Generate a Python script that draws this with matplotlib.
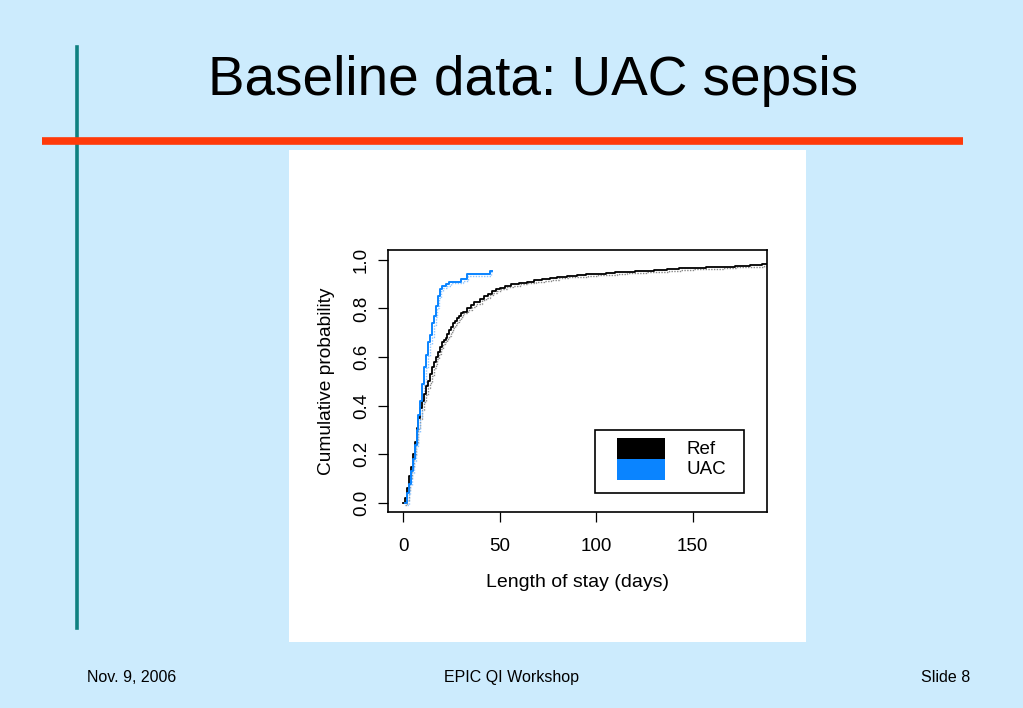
import matplotlib
matplotlib.use("Agg")
import matplotlib.pyplot as plt
from matplotlib.patches import Rectangle
from matplotlib.lines import Line2D
import matplotlib.transforms as mtransforms

# ---- data ----
ref_days = [0, 1, 2, 3, 4, 5, 6, 7, 8, 9, 10, 11, 12, 13, 14, 15, 16, 17, 18, 19, 20, 21,
            22, 23, 24, 25, 26, 27, 28, 29, 30, 31, 33, 35, 37, 40, 42, 44, 46, 48, 50,
            53, 56, 60, 64, 68, 72, 76, 80, 85, 90, 95, 100, 105, 110, 115, 120, 125,
            130, 137, 143, 150, 157, 165, 172, 180, 186, 189]
ref_prob = [0.0, 0.02, 0.06, 0.11, 0.15, 0.20, 0.25, 0.31, 0.35, 0.39, 0.42, 0.45, 0.48,
            0.50, 0.53, 0.56, 0.58, 0.60, 0.62, 0.64, 0.66, 0.67, 0.68, 0.695, 0.71,
            0.725, 0.74, 0.75, 0.76, 0.77, 0.78, 0.787, 0.80, 0.813, 0.825, 0.84, 0.85,
            0.86, 0.87, 0.878, 0.885, 0.893, 0.90, 0.905, 0.91, 0.915, 0.92, 0.925, 0.93,
            0.934, 0.937, 0.94, 0.942, 0.945, 0.948, 0.95, 0.953, 0.955, 0.958, 0.962,
            0.965, 0.967, 0.97, 0.972, 0.975, 0.978, 0.982, 0.985]

uac_days = [1, 2, 3, 4, 5, 6, 7, 8, 9, 10, 11, 12, 13, 14, 15, 16, 17, 18, 19, 20, 22,
            24, 26, 30, 33, 45, 46]
uac_prob = [0.0, 0.04, 0.08, 0.13, 0.18, 0.24, 0.30, 0.36, 0.42, 0.49, 0.56, 0.61, 0.66,
            0.69, 0.74, 0.77, 0.81, 0.85, 0.88, 0.89, 0.90, 0.91, 0.91, 0.92, 0.94, 0.955,
            0.955]

x_ticks = [0, 50, 100, 150]
y_ticks = [0.0, 0.2, 0.4, 0.6, 0.8, 1.0]
legend_labels = ["Ref", "UAC"]

title = "Baseline data: UAC sepsis"
footer_left = "Nov. 9, 2006"
footer_mid = "EPIC QI Workshop"
footer_right = "Slide 8"

BG = "#CCEBFD"
BLUE = "#0A84FF"
FONT = ["Liberation Sans", "DejaVu Sans"]
plt.rcParams["font.family"] = FONT

W, H = 1023, 708
fig = plt.figure(figsize=(W / 100, H / 100), dpi=100, facecolor=BG)

def fx(px):
    return px / W

def fy(py):
    return 1 - py / H

# slide decorations
fig.add_artist(Rectangle((fx(289), fy(642)), fx(806) - fx(289), fy(150) - fy(642),
                         transform=fig.transFigure, facecolor="white", edgecolor="none",
                         zorder=-5))
fig.add_artist(Line2D([fx(77), fx(77)], [fy(47), fy(628)], color="#0F8080", lw=2.6,
                      transform=fig.transFigure))
fig.add_artist(Line2D([fx(42), fx(963)], [fy(141), fy(141)], color="#FF3A0A", lw=5.5,
                      transform=fig.transFigure, solid_capstyle="butt"))

fig.text(fx(533), fy(95), title, ha="center", va="baseline", fontsize=39.5, color="black")
fig.text(fx(87), fy(682), footer_left, ha="left", va="baseline", fontsize=11.5)
fig.text(fx(511), fy(682), footer_mid, ha="center", va="baseline", fontsize=11.5)
fig.text(fx(970), fy(682), footer_right, ha="right", va="baseline", fontsize=11.5)

# chart
AX_L, AX_R, AX_T, AX_B = 388, 767, 250, 512
ax = fig.add_axes([fx(AX_L), fy(AX_B), fx(AX_R) - fx(AX_L), fy(AX_T) - fy(AX_B)])
ax.set_zorder(5)
ax.set_facecolor("white")

shadow = mtransforms.offset_copy(ax.transData, fig=fig, x=1.6, y=-1.6, units="dots")
ax.step(ref_days, ref_prob, where="post", color="#888888", lw=1.0, ls=(0, (1, 1)),
        transform=shadow)
ax.step(uac_days, uac_prob, where="post", color="#8CC4FF", lw=1.0, ls=(0, (1, 1)),
        transform=shadow)
ax.step(ref_days, ref_prob, where="post", color="black", lw=1.3)
ax.step(uac_days, uac_prob, where="post", color=BLUE, lw=1.4)

ax.set_xlim(-7.8, 188.6)
ax.set_ylim(-0.037, 1.04)
ax.set_xticks(x_ticks)
ax.set_yticks(y_ticks)
ax.set_xticklabels([str(t) for t in x_ticks], fontsize=13.5)
ax.set_yticklabels([f"{t:.1f}" for t in y_ticks], fontsize=13.5, rotation=90, va="center")
ax.tick_params(direction="out", length=7, width=0.9, color="black")
ax.tick_params(axis="x", pad=12)
ax.tick_params(axis="y", pad=6)
for s in ax.spines.values():
    s.set_linewidth(1.2)

ax.set_xlabel("Length of stay (days)", fontsize=14, labelpad=13.5)
ax.set_ylabel("Cumulative probability", fontsize=13.8, labelpad=13)

# legend box drawn in axes fraction coordinates from pixel layout
def ax_x(px):
    return (px - AX_L) / (AX_R - AX_L)

def ax_y(py):
    return (AX_B - py) / (AX_B - AX_T)

ax.add_patch(Rectangle((ax_x(595), ax_y(493)), ax_x(744) - ax_x(595), ax_y(430) - ax_y(493),
                       transform=ax.transAxes, facecolor="white", edgecolor="black",
                       lw=1.2, zorder=10))
for i, (lab, col) in enumerate(zip(legend_labels, ["black", BLUE])):
    top = 438 + 21 * i
    ax.add_patch(Rectangle((ax_x(617), ax_y(top + 21)), ax_x(665) - ax_x(617),
                           ax_y(top) - ax_y(top + 21), transform=ax.transAxes,
                           facecolor=col, edgecolor="none", zorder=11))
    ax.text(ax_x(686), ax_y(top + 11), lab, transform=ax.transAxes, ha="left",
            va="center", fontsize=13.5, zorder=12)

fig.savefig("out.png", dpi=100, facecolor=BG)
